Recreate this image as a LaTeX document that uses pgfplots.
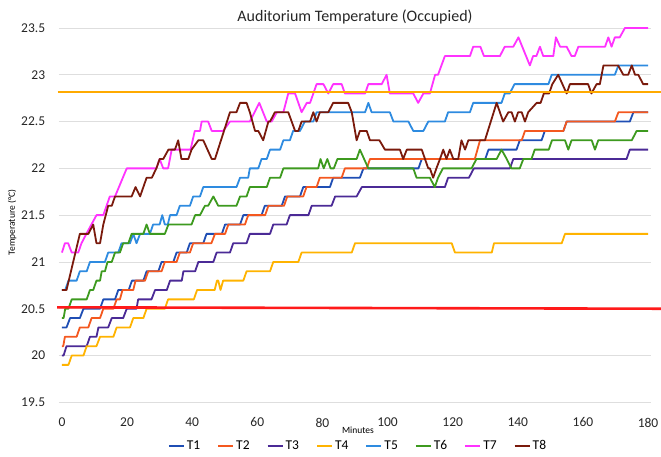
\documentclass[border=0pt]{standalone}
\usepackage{fontspec}
\setmainfont{Carlito}
\usepackage{pgfplots}
\pgfplotsset{compat=1.18}

\definecolor{cT1}{HTML}{1F4EB4}
\definecolor{cT2}{HTML}{F4581F}
\definecolor{cT3}{HTML}{4B2A96}
\definecolor{cT4}{HTML}{FFB300}
\definecolor{cT5}{HTML}{2E8BE0}
\definecolor{cT6}{HTML}{3D9A1F}
\definecolor{cT7}{HTML}{FF33FF}
\definecolor{cT8}{HTML}{7A1A0C}
\definecolor{upper}{HTML}{FFAA00}
\definecolor{lower}{HTML}{FF1A1A}
\definecolor{gridc}{HTML}{DEDEDE}

\begin{document}
\begin{tikzpicture}[x=1pt,y=1pt]
\path[use as bounding box] (0,0) rectangle (661,457);
\begin{axis}[
  at={(58.7pt,54.7pt)}, anchor=south west,
  scale only axis, width=592.6pt, height=374.3pt,
  xmin=-1, xmax=181, ymin=19.5, ymax=23.5,
  xtick={0,20,...,180}, ytick={19.5,20,...,23.5},
  axis line style={draw=none},
  major tick length=0pt,
  ymajorgrids, grid style={gridc, line width=0.8pt},
  clip=false,
  /pgf/number format/assume math mode=true,
  tick label style={font=\fontsize{13.5}{14}\selectfont, text=black!85},
  yticklabel style={/pgf/number format/.cd, fixed, precision=1, /tikz/.cd, xshift=-10pt},
  xticklabel style={yshift=-12pt},
  xlabel={Minutes}, xlabel style={font=\fontsize{9.5}{10}\selectfont, at={(axis description cs:0.505,-0.074)}, anchor=center},
  ylabel={Temperature (°C)}, ylabel style={font=\fontsize{9.5}{10}\selectfont, at={(axis description cs:-0.0785,0.48)}, anchor=center},
  legend style={at={(axis description cs:0.505,-0.117)}, anchor=center, draw=none, fill=none,
    legend columns=8, font=\fontsize{13.5}{14}\selectfont,
    /tikz/every even column/.append style={column sep=15pt}},
  legend image code/.code={\draw[#1, line width=2pt] (0pt,0pt) -- (15pt,0pt);},
  every axis plot/.append style={line width=1.8pt, mark=none, line join=round},
]
% T1
\addplot[cT1] coordinates {(0,20.3)(1.4,20.3)(2.5,20.4)(5.5,20.4)(6.6,20.5)(11.7,20.5)(12.7,20.6)(16.3,20.6)(17.3,20.7)(20.5,20.7)(21.5,20.8)(25,20.8)(26,20.9)(29.6,20.9)(30.6,21.0)(34.2,21.0)(35.2,21.1)(38.3,21.1)(39.3,21.2)(43.4,21.2)(44.4,21.3)(49.1,21.3)(50.1,21.4)(54.7,21.4)(55.7,21.5)(61.3,21.5)(62.3,21.6)(67.5,21.6)(68.5,21.7)(73.1,21.7)(74.1,21.8)(82.3,21.8)(83.3,21.9)(91.5,21.9)(92.6,22.0)(109.5,22.0)(110.5,22.1)(130,22.1)(131,22.2)(139.6,22.2)(140.6,22.3)(147.3,22.3)(148.3,22.4)(154,22.4)(155,22.5)(174.4,22.5)(175.5,22.6)(180,22.6)};
\addlegendentry{T1}
% T2
\addplot[cT2] coordinates {(0,20.1)(0.4,20.1)(0.9,20.2)(4.5,20.2)(5.5,20.3)(8.1,20.3)(9.1,20.4)(11.7,20.4)(12.7,20.5)(15.8,20.5)(16.8,20.6)(17.8,20.6)(18.6,20.7)(21.9,20.7)(22.6,20.8)(25.5,20.8)(26.5,20.9)(30.6,20.9)(31.6,21.0)(35.2,21.0)(36.2,21.1)(39.3,21.1)(40.3,21.2)(45.9,21.2)(47,21.3)(50.1,21.3)(51.1,21.4)(56.2,21.4)(57.2,21.5)(62.4,21.5)(63.4,21.6)(68.2,21.6)(69.2,21.7)(74.1,21.7)(75.1,21.8)(78.2,21.8)(79.2,21.9)(85.9,21.9)(86.9,22.0)(93.6,22.0)(94.6,22.1)(126.8,22.1)(128.4,22.3)(141.2,22.3)(142.2,22.4)(154,22.4)(155,22.5)(169.8,22.5)(170.9,22.6)(180,22.6)};
\addlegendentry{T2}
% T3
\addplot[cT3] coordinates {(0,20.0)(0.5,20.0)(1.4,20.1)(7.6,20.1)(8.6,20.2)(10.6,20.2)(11.2,20.3)(14.2,20.3)(15.3,20.4)(18.8,20.4)(19.9,20.5)(22.9,20.5)(23.4,20.6)(27.5,20.6)(28.6,20.7)(32.2,20.7)(33.2,20.8)(36.8,20.8)(37.3,20.9)(40.9,20.9)(41.9,21.0)(46.5,21.0)(47.5,21.1)(51.6,21.1)(52.6,21.2)(56.7,21.2)(57.7,21.3)(63.9,21.3)(64.9,21.4)(69,21.4)(70,21.5)(75.7,21.5)(76.7,21.6)(82.8,21.6)(83.9,21.7)(90.5,21.7)(92.1,21.8)(117.6,21.8)(118.6,21.9)(125,21.9)(126.5,22.0)(137.6,22.0)(138.6,22.1)(173.4,22.1)(174.4,22.2)(180,22.2)};
\addlegendentry{T3}
% T4
\addplot[cT4] coordinates {(0,19.9)(2,19.9)(3,20.0)(6.6,20.0)(7.6,20.1)(10.6,20.1)(11.7,20.2)(15.8,20.2)(16.8,20.3)(20.9,20.3)(21.9,20.4)(25,20.4)(26,20.5)(31.6,20.5)(32.6,20.6)(40.5,20.6)(41.5,20.7)(46.9,20.7)(47.6,20.8)(48,20.8)(48.7,20.7)(49.5,20.8)(55.7,20.8)(56.7,20.9)(63.9,20.9)(64.9,21.0)(72.6,21.0)(73.6,21.1)(89,21.1)(90,21.2)(119.7,21.2)(120.7,21.1)(132,21.1)(132.7,21.2)(153.5,21.2)(154.5,21.3)(180,21.3)};
\addlegendentry{T4}
% T5
\addplot[cT5] coordinates {(0,20.7)(1,20.7)(2,20.8)(4.5,20.8)(5.5,20.9)(7.6,20.9)(8.6,21.0)(13.2,21.0)(14.2,21.1)(17.3,21.1)(18.3,21.2)(20.9,21.2)(21.9,21.3)(22.9,21.2)(24,21.3)(27,21.3)(28,21.4)(30,21.4)(30.8,21.5)(31.6,21.4)(32.5,21.4)(33.2,21.5)(35.2,21.5)(36.2,21.6)(39.3,21.6)(40.3,21.7)(42.4,21.7)(43.4,21.8)(53.6,21.8)(54.7,21.9)(57.2,21.9)(57.7,22.0)(60.3,22.0)(61.3,22.1)(62.9,22.1)(63.9,22.2)(67,22.2)(68,22.3)(70,22.3)(71,22.4)(73.1,22.4)(74.6,22.5)(77.2,22.5)(78.2,22.6)(93.1,22.6)(94.1,22.7)(95.1,22.6)(100.7,22.6)(101.8,22.5)(106.4,22.5)(107.9,22.4)(111,22.4)(112.5,22.5)(117.6,22.5)(118.6,22.6)(125.3,22.6)(126.3,22.7)(135,22.7)(136,22.8)(137.5,22.8)(139,22.9)(149.4,22.9)(150.4,23.0)(169.8,23.0)(170.9,23.1)(180,23.1)};
\addlegendentry{T5}
% T6
\addplot[cT6] coordinates {(0,20.4)(0.5,20.4)(1,20.5)(2,20.5)(3,20.6)(7.6,20.6)(8.6,20.7)(9.6,20.7)(10.6,20.8)(11.7,20.8)(12.2,20.9)(13.2,20.9)(14,21.0)(15.3,21.0)(16.3,21.1)(17.8,21.1)(18.8,21.2)(20.4,21.2)(21.4,21.3)(25,21.3)(26,21.4)(27,21.3)(31.6,21.3)(32.7,21.4)(39.8,21.4)(40.9,21.5)(42.4,21.5)(43.9,21.6)(44.9,21.6)(46.5,21.7)(48,21.6)(53.6,21.6)(54.7,21.7)(56.7,21.7)(57.7,21.8)(62.9,21.8)(63.9,21.9)(67,21.9)(68,22.0)(78.7,22.0)(79.4,22.1)(80.4,22.0)(81.5,22.1)(82.5,22.0)(83.5,22.0)(84.6,22.1)(90.5,22.1)(91.5,22.2)(92.8,22.1)(94.1,22.0)(107.9,22.0)(108.9,21.9)(113,21.9)(114.5,21.8)(115.5,21.9)(117,22.0)(125.8,22.0)(127.3,22.1)(133.5,22.1)(135,22.2)(136.6,22.1)(138,22.0)(140.6,22.0)(141.7,22.1)(144.2,22.1)(145.2,22.2)(149.5,22.2)(150.5,22.3)(154.5,22.3)(155.5,22.2)(156.5,22.3)(162.7,22.3)(163.7,22.2)(164.7,22.3)(175,22.3)(176.5,22.4)(180,22.4)};
\addlegendentry{T6}
% T7
\addplot[cT7] coordinates {(0,21.1)(0.9,21.2)(1.9,21.2)(3,21.1)(5,21.1)(6,21.2)(7.5,21.3)(10.6,21.5)(12.7,21.5)(14.7,21.7)(16.3,21.7)(19.9,22.0)(29,22.0)(30,22.1)(31.1,22.0)(32.6,22.0)(33.7,22.2)(39.5,22.2)(40.8,22.4)(42.4,22.4)(42.9,22.5)(44.9,22.5)(46,22.4)(49.5,22.4)(51.6,22.5)(57.7,22.5)(60.6,22.7)(62.9,22.5)(64.4,22.5)(66,22.6)(68,22.6)(69.5,22.8)(71.6,22.8)(73.6,22.6)(75.2,22.7)(76.2,22.7)(78.2,22.9)(80.3,22.9)(81.8,22.8)(83.3,22.9)(85.9,22.9)(86.9,22.8)(93.1,22.8)(94.1,22.9)(98.2,22.9)(99.7,23.0)(100.7,22.8)(107.9,22.8)(109.4,22.7)(111,22.8)(113,22.8)(114.6,23.0)(115.5,23.0)(117.6,23.2)(125.3,23.2)(126.3,23.3)(128.5,23.3)(129.6,23.2)(134.5,23.2)(136,23.3)(138.6,23.3)(140.2,23.4)(143.7,23.1)(144.7,23.2)(145.7,23.2)(146.8,23.3)(147.8,23.2)(150.9,23.2)(151.7,23.4)(153,23.3)(155,23.3)(156.5,23.2)(157.5,23.2)(158.6,23.3)(166.8,23.3)(167.8,23.4)(168.8,23.3)(169.8,23.4)(171.3,23.4)(172.9,23.5)(180,23.5)};
\addlegendentry{T7}
% T8
\addplot[cT8] coordinates {(0,20.7)(1.4,20.7)(5.5,21.3)(8.1,21.3)(9.6,21.4)(10.6,21.2)(11.7,21.2)(12.7,21.4)(14.2,21.6)(15.3,21.6)(16.3,21.7)(21.4,21.7)(22.6,21.8)(24,21.7)(26,21.9)(27.6,21.9)(29,22.0)(30,22.1)(31.1,22.1)(32.7,22.2)(34.7,22.2)(35.7,22.3)(36.7,22.1)(38.8,22.1)(39.8,22.2)(41.9,22.3)(43.4,22.3)(46,22.1)(47,22.1)(51.6,22.6)(53.6,22.6)(54.7,22.7)(56.7,22.7)(57.7,22.6)(59.3,22.4)(60.3,22.4)(61.8,22.3)(63.4,22.5)(63.9,22.5)(65.4,22.6)(69.5,22.6)(71.6,22.4)(72.6,22.4)(73.6,22.5)(76.2,22.5)(77.2,22.6)(78.2,22.5)(79.2,22.6)(81.8,22.6)(83.3,22.7)(87.9,22.7)(89,22.6)(90.5,22.3)(91.5,22.4)(93.6,22.4)(94.6,22.3)(97.5,22.3)(99.2,22.2)(103.8,22.2)(104.8,22.1)(105.9,22.2)(110.5,22.2)(112.5,22.0)(113,22.0)(114,21.9)(115,22.0)(116.1,22.1)(117.1,22.2)(118.1,22.1)(119.1,22.2)(120.2,22.1)(121.7,22.1)(122.7,22.3)(123.8,22.2)(124.8,22.3)(129.9,22.3)(133.5,22.7)(134.5,22.6)(135.5,22.5)(137.1,22.6)(138.1,22.6)(139.1,22.5)(140.1,22.6)(141.2,22.6)(142.2,22.5)(143.2,22.6)(145.8,22.7)(147,22.7)(148,22.8)(149.6,22.8)(150.6,22.9)(152.4,23.0)(155,22.8)(156,22.9)(161.6,22.9)(162.6,22.8)(164.2,22.9)(165.2,22.9)(166.3,23.1)(170.8,23.1)(172.4,23.0)(173.9,23.0)(175,23.1)(176,23.0)(177,23.0)(178.5,22.9)(180,22.9)};
\addlegendentry{T8}
% comfort band limits
\addplot[upper, line width=1.8pt, forget plot] coordinates {(-1.3,22.82)(184,22.82)};
\addplot[lower, line width=2.6pt, forget plot] coordinates {(-1.5,20.515)(184,20.5)};
\end{axis}
\node[font=\fontsize{16}{18}\selectfont, text=black!85] at (355,440) {Auditorium Temperature (Occupied)};
\end{tikzpicture}
\end{document}
